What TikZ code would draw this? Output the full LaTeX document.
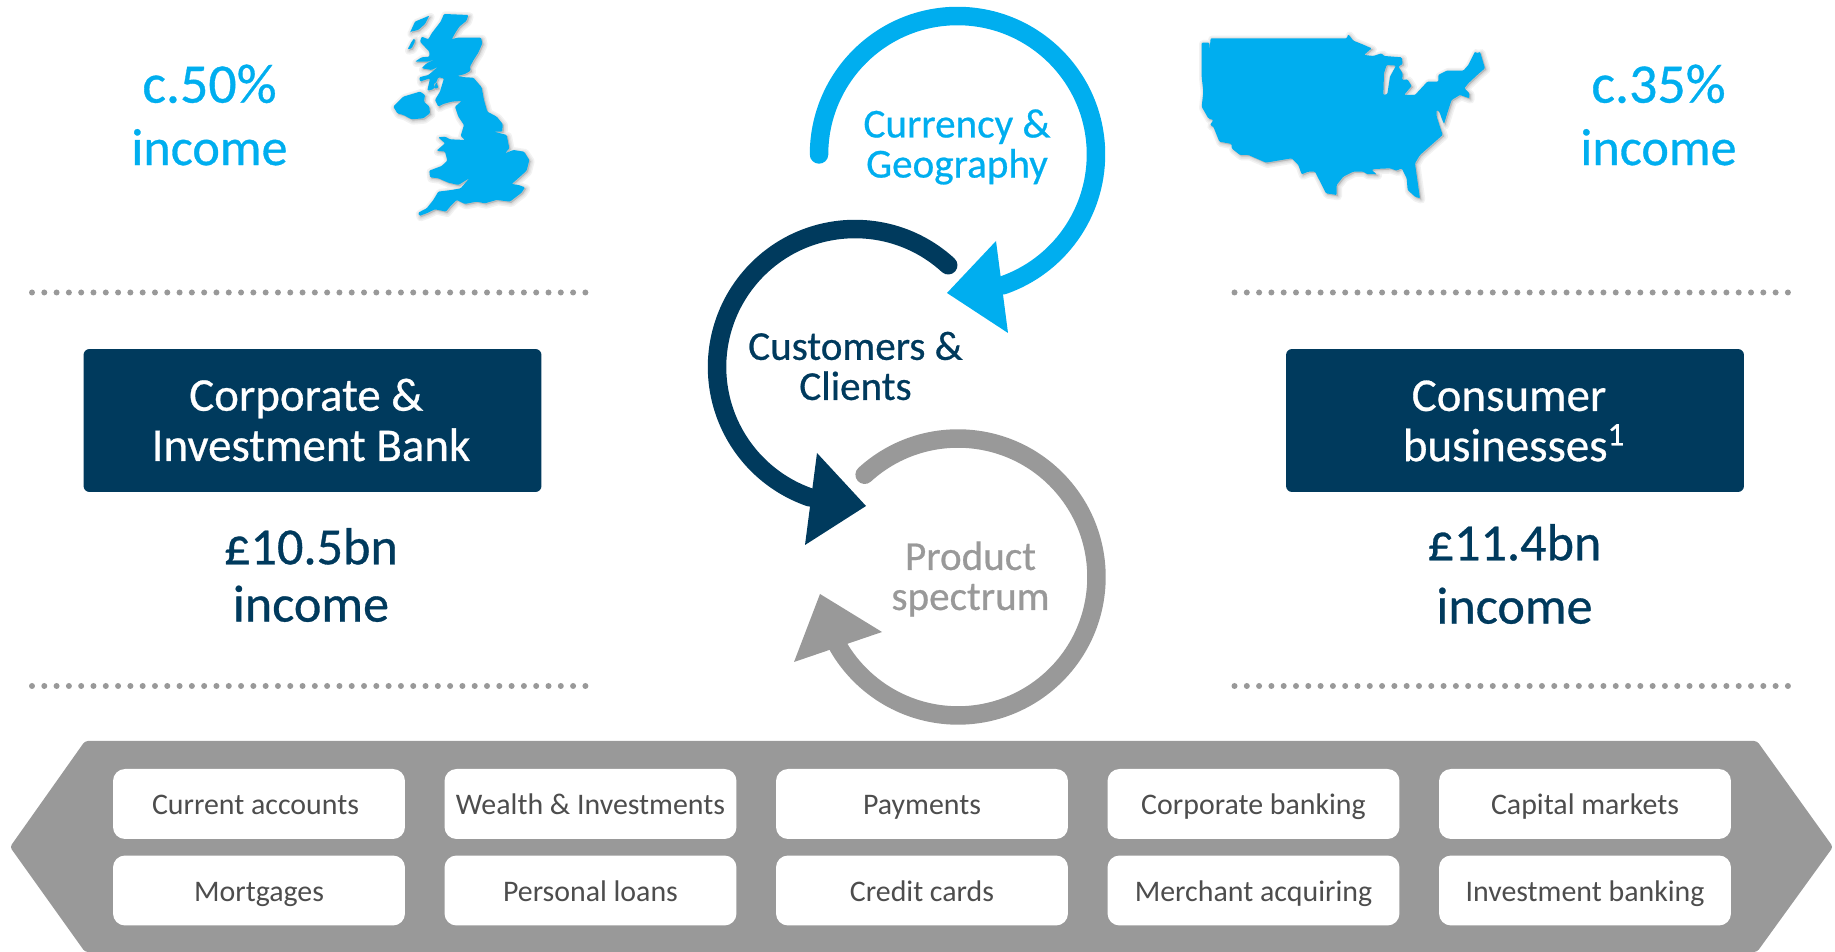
\documentclass[tikz,border=0pt]{standalone}
\usepackage{fontspec}
\setmainfont{Carlito}
\newfontfamily\headfont[FakeBold=0.6]{Carlito}
\usetikzlibrary{positioning}

\definecolor{skyblue}{HTML}{00AEEF}
\definecolor{navyblue}{HTML}{003A5D}
\definecolor{midgrey}{HTML}{999999}
\definecolor{pilltext}{HTML}{4D4D4D}

\newcommand{\ukoutline}{
(222,42) -- (295,45) -- (290,62) -- (268,80) -- (258,95) -- (245,118) -- (262,113) -- (333,113) -- (337,130) -- (325,158) -- (312,178) -- (300,200) -- (302,212) -- (285,222) -- (262,228) -- (285,232) -- (310,233) -- (335,262) -- (342,300) -- (352,335) -- (380,350) -- (398,372) -- (397,395) -- (372,395) -- (410,405) -- (418,445) -- (405,460) -- (430,450) -- (462,455) -- (478,480) -- (470,512) -- (448,532) -- (425,552) -- (445,555) -- (465,562) -- (455,578) -- (420,605) -- (380,600) -- (345,610) -- (320,605) -- (285,612) -- (260,600) -- (240,620) -- (228,635) -- (195,628) -- (170,640) -- (148,648) -- (145,638) -- (170,625) -- (190,600) -- (205,575) -- (245,570) -- (272,565) -- (298,535) -- (265,555) -- (235,548) -- (205,535) -- (180,532) -- (178,512) -- (215,498) -- (232,482) -- (225,455) -- (200,452) -- (225,430) -- (205,412) -- (225,410) -- (240,418) -- (285,420) -- (272,408) -- (282,375) -- (265,350) -- (255,320) -- (275,303) -- (245,305) -- (220,312) -- (205,320) -- (195,300) -- (210,275) -- (222,235) -- (205,232) -- (190,268) -- (172,272) -- (180,235) -- (150,245) -- (148,232) -- (175,225) -- (205,200) -- (185,210) -- (155,205) -- (170,190) -- (200,175) -- (175,185) -- (135,185) -- (155,172) -- (178,170) -- (178,155) -- (150,125) -- (155,110) -- (175,118) -- (185,100) -- (212,65) -- cycle
(70,320) -- (100,290) -- (150,275) -- (165,285) -- (162,305) -- (178,320) -- (180,340) -- (160,355) -- (125,358) -- (100,345) -- (82,340) -- cycle
(135,65) -- (178,47) -- (165,72) -- (145,90) -- (122,95) -- (120,98) -- cycle
(113,148) -- (125,125) -- (133,115) -- (135,125) -- (125,145) -- cycle
(192,250) -- (200,247) -- (205,264) -- (193,266) -- cycle
}
\newcommand{\usoutline}{
(65,68) -- (88,68) -- (88,95) -- (92,55) -- (500,55) -- (505,43) -- (520,62) -- (545,72) -- (575,85) -- (552,105) -- (580,108) -- (605,100) -- (612,108) -- (665,112) -- (668,132) -- (655,140) -- (668,160) -- (667,180) -- (682,178) -- (695,198) -- (672,225) -- (705,225) -- (742,185) -- (775,185) -- (775,165) -- (800,152) -- (850,152) -- (865,135) -- (885,95) -- (892,100) -- (900,95) -- (915,145) -- (895,162) -- (865,190) -- (853,205) -- (868,220) -- (868,235) -- (840,225) -- (815,240) -- (805,270) -- (792,312) -- (785,295) -- (778,275) -- (770,270) -- (770,290) -- (788,345) -- (720,405) -- (705,430) -- (720,535) -- (705,530) -- (683,510) -- (680,475) -- (665,445) -- (650,452) -- (630,445) -- (585,447) -- (575,450) -- (590,463) -- (560,462) -- (550,455) -- (520,455) -- (490,470) -- (470,495) -- (470,525) -- (438,520) -- (405,455) -- (385,455) -- (365,463) -- (355,435) -- (335,415) -- (258,428) -- (205,405) -- (180,405) -- (155,385) -- (155,372) -- (118,365) -- (100,320) -- (90,315) -- (100,300) -- (85,295) -- (65,260) -- (70,215) -- (65,170) -- cycle
(620,135) -- (648,137) -- (630,170) -- (622,222) -- (610,225) -- (612,160) -- cycle
}

\tikzset{
  ukscope/.style={shift={(370,952)}, x=0.006667cm, y=-0.006667cm},
  usscope/.style={shift={(1180,932)}, x=0.006667cm, y=-0.006667cm},
  mapshade/.style={black, opacity=0.05, even odd rule, line join=round, shift={(4,4)}},
  mapfill/.style={fill=skyblue, even odd rule, rounded corners=0.02cm},
  dotrule/.style={midgrey, line width=0.12cm, line cap=round, dash pattern=on 0pt off 0.246cm},
  ringarc/.style={line width=0.37cm, line cap=round},
  headbox/.style={fill=navyblue, rounded corners=0.12cm, minimum width=9.16cm, minimum height=2.86cm, inner sep=0pt},
  headtext/.style={text=white, align=center, font=\headfont\fontsize{26.7}{28.6}\selectfont},
  sharetext/.style={text=skyblue, align=center, font=\headfont\fontsize{29.7}{35.5}\selectfont},
  incometext/.style={text=navyblue, align=center, font=\headfont\fontsize{29.7}{32.6}\selectfont},
  ringtext/.style={align=center, font=\headfont\fontsize{23.4}{22.8}\selectfont},
  pill/.style={fill=white, text=pilltext, rounded corners=0.24cm, minimum width=5.84cm, minimum height=1.4cm, inner sep=0pt, text height=16pt, text depth=3.5pt, font=\fontsize{17}{20}\selectfont},
}

\begin{document}
\begin{tikzpicture}[x=0.02cm, y=0.02cm]
\useasboundingbox (0,0) rectangle (1835,952);

% maps
\begin{scope}[ukscope]
\draw[mapshade, fill, line width=0.16cm] \ukoutline;
\draw[mapshade, fill, line width=0.1cm] \ukoutline;
\draw[mapshade, fill, line width=0.05cm] \ukoutline;
\fill[mapfill] \ukoutline;
\end{scope}
\begin{scope}[usscope]
\draw[mapshade, fill, line width=0.16cm] \usoutline;
\draw[mapshade, fill, line width=0.1cm] \usoutline;
\draw[mapshade, fill, line width=0.05cm] \usoutline;
\fill[mapfill] \usoutline;
\end{scope}

\node[sharetext] (ukshare) at (209.5,837) {{\fontsize{31.8}{35.5}\selectfont c.50\%}\\income};
\node[sharetext] (usshare) at (1658.5,837) {{\fontsize{31.8}{35.5}\selectfont c.35\%}\\income};

% dotted rules
\draw[dotrule] (32,659.5) -- (587,659.5);
\draw[dotrule] (32,266) -- (587,266);
\draw[dotrule] (1234.5,659.5) -- (1789,659.5);
\draw[dotrule] (1234.5,266) -- (1789,266);

% left and right columns
\node[headbox] (cibbox) at (312.5,531.5) {};
\node[headtext] (cibtext) at (311,532) {Corporate \&\hspace*{0.19cm}\\Investment Bank};
\node[incometext] (cibincome) at (311,377) {£10.5bn\\income};
\node[headbox] (consbox) at (1515,531.5) {};
\node[headtext] (constext) at (1514,531) {Consumer\hspace*{0.2cm}\\businesses\textsuperscript{1}};
\node[incometext, font=\headfont\fontsize{29.7}{36}\selectfont] (consincome) at (1514.5,378) {£11.4bn\\income};

% rings
\coordinate (bluering) at (957.5,797.5);
\coordinate (navyring) at (855,585);
\coordinate (greyring) at (958,375);
\draw[ringarc, skyblue] ([shift={(180:2.77cm)}]bluering) arc[start angle=180, end angle=-71, radius=2.77cm];
\fill[skyblue] (947,659) -- (996,711) -- (1008,619) -- cycle;
\draw[ringarc, navyblue] ([shift={(47.5:2.76cm)}]navyring) arc[start angle=47.5, end angle=251, radius=2.76cm];
\fill[navyblue] (866,446) -- (817,499) -- (805,407) -- cycle;
\draw[ringarc, midgrey] ([shift={(132.4:2.77cm)}]greyring) arc[start angle=132.4, end angle=-150, radius=2.77cm];
\fill[midgrey] (794,290) -- (820,358) -- (882,320) -- cycle;

\node[ringtext, text=skyblue] (currency) at (957,805) {Currency \&\\Geography};
\node[ringtext, text=navyblue] (customers) at (855.5,586) {Customers \&\\Clients};
\node[ringtext, text=midgrey] (product) at (970.5,373) {Product\\spectrum};

% banner
\fill[midgrey, rounded corners=0.06cm] (85,0) -- (10,105) -- (85,211) -- (1757,211) -- (1833,105) -- (1757,0) -- cycle;

\node[pill] (currentacc) at (259,148) {Current accounts\hspace*{0.14cm}};
\node[pill] (wealth) at (590.5,148) {Wealth \& Investments};
\node[pill] (payments) at (922,148) {Payments};
\node[pill] (corporate) at (1253.5,148) {Corporate banking};
\node[pill] (capital) at (1585,148) {Capital markets};
\node[pill] (mortgages) at (259,61.5) {Mortgages};
\node[pill] (loans) at (590.5,61.5) {Personal loans};
\node[pill] (cards) at (922,61.5) {Credit cards};
\node[pill] (merchant) at (1253.5,61.5) {Merchant acquiring};
\node[pill] (investment) at (1585,61.5) {Investment banking};
\end{tikzpicture}
\end{document}
